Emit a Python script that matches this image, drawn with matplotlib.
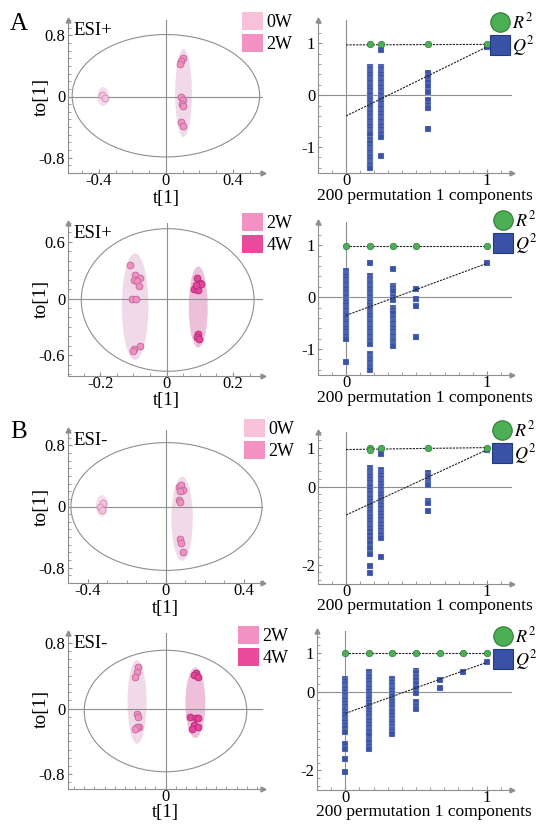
import matplotlib
matplotlib.use("Agg")
import matplotlib.pyplot as plt
from matplotlib.patches import Ellipse, Patch
from matplotlib.lines import Line2D
from matplotlib.ticker import MultipleLocator

plt.rcParams['font.family'] = ['Liberation Serif', 'DejaVu Serif']
plt.rcParams['mathtext.fontset'] = 'stix'
plt.rcParams['axes.unicode_minus'] = False

# ---------------- score plot data (t[1], to[1]) ----------------
# A, ESI+, 0W vs 2W
a_0w_x = [-0.384, -0.362]
a_0w_y = [0.02, -0.02]
a_2w_x = [0.105, 0.09, 0.085, 0.093, 0.105, 0.095, 0.1, 0.09, 0.1]
a_2w_y = [0.5, 0.47, 0.43, 0.0, -0.05, -0.1, -0.12, -0.33, -0.38]

# A, ESI+, 2W vs 4W
b_2w_x = [-0.109, -0.094, -0.079, -0.099, -0.089, -0.084, -0.104, -0.091, -0.079, -0.099, -0.102]
b_2w_y = [0.36, 0.25, 0.22, 0.2, 0.19, 0.13, 0.0, 0.0, -0.5, -0.53, -0.56]
b_4w_x = [0.091, 0.099, 0.104, 0.083, 0.095, 0.088, 0.093, 0.09, 0.098]
b_4w_y = [0.22, 0.17, 0.15, 0.1, 0.09, 0.14, -0.38, -0.41, -0.43]

# B, ESI-, 0W vs 2W
c_0w_x = [-0.32, -0.335, -0.325]
c_0w_y = [0.05, 0.0, -0.05]
c_2w_x = [0.071, 0.078, 0.09, 0.072, 0.07, 0.074, 0.072, 0.078, 0.09]
c_2w_y = [0.25, 0.28, 0.21, 0.2, 0.09, 0.06, -0.42, -0.48, -0.6]

# B, ESI-, 2W vs 4W
d_2w_x = [-0.133, -0.14, -0.15, -0.14, -0.135, -0.13, -0.14, -0.15]
d_2w_y = [0.51, 0.44, 0.39, -0.07, -0.1, -0.22, -0.23, -0.25]
d_4w_x = [0.15, 0.14, 0.16, 0.12, 0.15, 0.16, 0.14, 0.16, 0.13]
d_4w_y = [0.43, 0.41, 0.39, -0.1, -0.12, -0.11, -0.2, -0.22, -0.25]

# ---------------- permutation test data ----------------
p1_r2_x = [0.17, 0.25, 0.58, 1.0]
p1_r2_y = [0.98, 0.98, 0.98, 0.98]
p1_r2_int = 0.97
p1_q2_x = [0.17, 0.25, 0.58, 1.0]
p1_q2_y = [
    [0.55, 0.5, 0.45, 0.4, 0.35, 0.3, 0.25, 0.2, 0.15, 0.1, 0.05, 0.0, -0.05, -0.1, -0.15, -0.2,
     -0.25, -0.3, -0.35, -0.4, -0.45, -0.5, -0.55, -0.6, -0.65, -0.7, -0.75, -0.87, -0.92,
     -1.0, -1.05, -1.1, -1.15, -1.2, -1.25, -1.3, -1.35, -1.4],
    [0.88, 0.55, 0.5, 0.45, 0.4, 0.35, 0.3, 0.25, 0.2, 0.15, 0.1, 0.05, 0.0, -0.05, -0.1, -0.15,
     -0.2, -0.25, -0.3, -0.35, -0.4, -0.45, -0.5, -0.55, -0.6, -0.65, -0.7, -0.75, -0.8, -1.17],
    [0.42, 0.35, 0.26, 0.17, 0.07, -0.1, -0.19, -0.25, -0.65],
    [0.93],
]
p1_q2_int = -0.4

p2_r2_x = [0.0, 0.167, 0.333, 0.5, 1.0]
p2_r2_y = [0.99, 0.99, 0.99, 0.99, 0.99]
p2_r2_int = 0.99
p2_q2_x = [0.0, 0.167, 0.333, 0.5, 1.0]
p2_q2_y = [
    [0.5, 0.45, 0.4, 0.35, 0.3, 0.25, 0.2, 0.15, 0.1, 0.05, 0.0, -0.05, -0.1, -0.15, -0.2, -0.25,
     -0.3, -0.35, -0.4, -0.45, -0.5, -0.55, -0.6, -0.65, -0.7, -0.75, -0.8, -1.25],
    [0.65, 0.4, 0.35, 0.3, 0.25, 0.2, 0.15, 0.1, 0.05, 0.0, -0.05, -0.1, -0.15, -0.2, -0.25, -0.3,
     -0.35, -0.4, -0.45, -0.5, -0.55, -0.6, -0.65, -0.7, -0.75, -0.8, -0.85, -0.9,
     -1.1, -1.15, -1.2, -1.25, -1.3, -1.35, -1.4],
    [0.55, 0.22, 0.17, 0.12, 0.0, -0.05, -0.2, -0.25, -0.3, -0.4, -0.45, -0.5, -0.55, -0.6,
     -0.65, -0.7, -0.75, -0.8, -0.85, -0.9, -0.95],
    [0.15, -0.03, -0.17, -0.77],
    [0.65],
]
p2_q2_int = -0.35

p3_r2_x = [0.17, 0.17, 0.25, 0.58, 1.0]
p3_r2_y = [1.0, 0.93, 1.0, 1.0, 1.0]
p3_r2_int = 0.95
p3_q2_x = [0.17, 0.25, 0.58, 1.0]
p3_q2_y = [
    [0.47, 0.4, 0.33, 0.26, 0.19, 0.12, 0.05, -0.02, -0.09, -0.16, -0.23, -0.3, -0.37, -0.44,
     -0.51, -0.58, -0.65, -0.72, -0.79, -0.86, -0.93, -1.0, -1.07, -1.14, -1.24, -1.35, -1.45,
     -1.58, -1.73, -2.04, -2.22],
    [0.92, 0.83, 0.43, 0.36, 0.29, 0.22, 0.15, 0.08, 0.01, -0.06, -0.13, -0.2, -0.27, -0.34,
     -0.41, -0.48, -0.55, -0.62, -0.69, -0.76, -0.83, -0.9, -0.97, -1.04, -1.11, -1.18, -1.25,
     -1.32, -1.8],
    [0.34, 0.26, 0.17, 0.09, 0.04, -0.36, -0.43, -0.62],
    [0.94],
]
p3_q2_int = -0.73

p4_r2_x = [0.0, 0.167, 0.333, 0.5, 0.667, 0.833, 1.0]
p4_r2_y = [1.0, 1.0, 1.0, 1.0, 1.0, 1.0, 1.0]
p4_r2_int = 1.0
p4_q2_x = [0.0, 0.167, 0.333, 0.5, 0.667, 0.833, 1.0]
p4_q2_y = [
    [0.34, 0.27, 0.2, 0.13, 0.06, -0.01, -0.08, -0.15, -0.22, -0.29, -0.36, -0.43, -0.5, -0.57,
     -0.64, -0.71, -0.78, -0.85, -0.92, -1.03, -1.32, -1.45, -1.7, -2.03],
    [0.51, 0.44, 0.37, 0.3, 0.23, 0.16, 0.09, 0.02, -0.05, -0.12, -0.19, -0.26, -0.33, -0.4,
     -0.47, -0.54, -0.61, -0.68, -0.75, -0.82, -0.89, -0.96, -1.03, -1.11, -1.22, -1.28, -1.37,
     -1.45],
    [0.32, 0.25, 0.18, 0.11, 0.04, -0.03, -0.1, -0.17, -0.24, -0.31, -0.38, -0.45, -0.52, -0.59,
     -0.66, -0.73, -0.8, -0.87, -0.94, -1.0, -1.07],
    [0.54, 0.47, 0.38, 0.3, 0.21, 0.09, -0.03, -0.26, -0.36, -0.44],
    [0.3, 0.09],
    [0.5],
    [0.75],
]
p4_q2_int = -0.55

GRAY = '#8f8f8f'
C0W, C2W, C4W = '#f6c1d9', '#f192c2', '#ea4a9b'
PT = {'0W': ('#f5c3dc', '#d58db4'), '2W': ('#ee90c0', '#c2659a'), '4W': ('#e4459a', '#b02a76')}
SHADE = {'0W': '#f2dbe8', '2W': '#f0d6e6', '4W': '#ecb8d6'}
GREEN, GREEN_E = '#4cae55', '#2e7d35'
BLUE, BLUE_E = '#3a52a6', '#22398a'

W, H = 539, 824
fig = plt.figure(figsize=(W / 100, H / 100), dpi=100)


def px_rect(left, top, right, bottom):
    return [left / W, 1 - bottom / H, (right - left) / W, (bottom - top) / H]


def style_axes(ax):
    for s in ('top', 'right'):
        ax.spines[s].set_visible(False)
    for s in ('left', 'bottom'):
        ax.spines[s].set_color(GRAY)
        ax.spines[s].set_linewidth(0.8)
    ax.tick_params(which='both', direction='in', color=GRAY, labelsize=12, pad=2)
    ax.tick_params(which='major', length=3)
    ax.tick_params(which='minor', length=2)
    ax.tick_params(axis='x', which='major', pad=0)
    ax.plot(0, 1, '^', transform=ax.transAxes, clip_on=False, color=GRAY, ms=3.5)
    ax.plot(1, 0, '>', transform=ax.transAxes, clip_on=False, color=GRAY, ms=3.5)


def score_panel(rect, xlim, ylim, xticks, yticks, xminor, yminor, t2, groups, tag, leg_xy,
                tdrop=25):
    ax = fig.add_axes(rect)
    ax.set_xlim(*xlim)
    ax.set_ylim(*ylim)
    style_axes(ax)
    ax.axhline(0, color=GRAY, lw=0.8)
    ax.axvline(0, color=GRAY, lw=0.8)
    ax.add_patch(Ellipse(t2[:2], t2[2], t2[3], fill=False, ec=GRAY, lw=0.8))
    for name, gx, gy, ell in groups:
        ax.add_patch(Ellipse(ell[:2], ell[2], ell[3], fc=SHADE[name], ec='none', alpha=0.9))
    for name, gx, gy, ell in groups:
        fc, ec = PT[name]
        ax.scatter(gx, gy, s=24, c=fc, edgecolors=ec, linewidths=0.6, zorder=3)
    ax.set_xticks(xticks)
    ax.set_xticklabels([('%g' % v) for v in xticks])
    ax.set_yticks(yticks)
    ax.set_yticklabels([('%g' % v) for v in yticks])
    ax.xaxis.set_minor_locator(MultipleLocator(xminor))
    ax.yaxis.set_minor_locator(MultipleLocator(yminor))
    x0 = (0 - xlim[0]) / (xlim[1] - xlim[0])
    y0 = (0 - ylim[0]) / (ylim[1] - ylim[0])
    ax.text(x0, -tdrop / (rect[3] * H), 't[1]', transform=ax.transAxes, ha='center',
            va='center', fontsize=13.5)
    ax.text(-0.135, y0, 'to[1]', transform=ax.transAxes, ha='center', va='center',
            rotation=90, fontsize=14)
    ax.text(0.03, 0.93, tag, transform=ax.transAxes, ha='left', va='center', fontsize=13.5)
    colors = {'0W': C0W, '2W': C2W, '4W': C4W}
    handles = [Patch(facecolor=colors[g[0]], edgecolor='none') for g in groups]
    fig.legend(handles, [g[0] for g in groups], loc='upper left',
               bbox_to_anchor=(leg_xy[0] / W, 1 - leg_xy[1] / H), frameon=False, fontsize=13,
               handlelength=1.15, handleheight=1.15, handletextpad=0.2, labelspacing=0.15,
               borderpad=0, borderaxespad=0)
    return ax


def perm_panel(rect, ylim, yticks, yminor, r2x, r2y, r2int, q2x, q2y, q2int, leg_xy):
    ax = fig.add_axes(rect)
    ax.set_xlim(-0.2, 1.18)
    ax.set_ylim(*ylim)
    style_axes(ax)
    ax.axhline(0, color=GRAY, lw=0.8)
    ax.axvline(0, color=GRAY, lw=0.8)
    for xv, col in zip(q2x, q2y):
        ax.scatter([xv] * len(col), col, marker='s', s=20, c=BLUE, edgecolors='#c8d0ea',
                   linewidths=0.2, zorder=3)
    ax.plot([0, 1], [q2int, q2y[-1][0]], color='#222222', lw=0.8, ls=(0, (2, 1)), zorder=4)
    ax.plot([0, 1], [r2int, r2y[-1]], color='#222222', lw=0.8, ls=(0, (2, 1)), zorder=4)
    ax.scatter(r2x, r2y, marker='o', s=22, c=GREEN, edgecolors=GREEN_E, linewidths=0.5, zorder=5)
    ax.set_xticks([0, 1])
    ax.set_xticklabels(['0', '1'])
    ax.set_yticks(yticks)
    ax.set_yticklabels([('%g' % v) for v in yticks])
    ax.xaxis.set_minor_locator(MultipleLocator(0.1))
    ax.yaxis.set_minor_locator(MultipleLocator(yminor))
    ax.text(0.55, -22.5 / (rect[3] * H), '200 permutation 1 components', transform=ax.transAxes,
            ha='center', va='center', fontsize=12.5)
    handles = [Line2D([], [], ls='none', marker='o', ms=14, mfc=GREEN, mec=GREEN_E, mew=0.8),
               Line2D([], [], ls='none', marker='s', ms=14, mfc=BLUE, mec=BLUE_E, mew=0.8)]
    fig.legend(handles, ['$R^{2}$', '$Q^{2}$'], loc='upper left',
               bbox_to_anchor=(leg_xy[0] / W, 1 - leg_xy[1] / H), frameon=False, fontsize=13,
               handlelength=1.0, handletextpad=0.15, labelspacing=0.1,
               borderpad=0, borderaxespad=0)
    return ax


score_panel(px_rect(68, 20, 263, 173), (-0.585, 0.58), (-1.0, 1.0), [-0.4, 0, 0.4], [-0.8, 0, 0.8],
            0.1, 0.1, (0, 0.01, 1.12, 1.6),
            [('0W', a_0w_x, a_0w_y, (-0.375, 0.0, 0.07, 0.25)),
             ('2W', a_2w_x, a_2w_y, (0.105, 0.045, 0.1, 1.15))], 'ESI+', (242, 12))
score_panel(px_rect(68, 223, 263, 376), (-0.297, 0.29), (-0.82, 0.8), [-0.2, 0, 0.2], [-0.6, 0, 0.6],
            0.05, 0.1, (0.003, -0.015, 0.52, 1.51),
            [('2W', b_2w_x, b_2w_y, (-0.095, -0.085, 0.08, 1.13)),
             ('4W', b_4w_x, b_4w_y, (0.095, -0.09, 0.057, 0.86))], 'ESI+', (242, 213))
score_panel(px_rect(68, 430, 263, 583), (-0.5, 0.5), (-1.0, 1.0), [-0.4, 0, 0.4], [-0.8, 0, 0.8],
            0.1, 0.1, (0.005, 0.0, 0.98, 1.67),
            [('0W', c_0w_x, c_0w_y, (-0.326, 0.01, 0.062, 0.28)),
             ('2W', c_2w_x, c_2w_y, (0.085, -0.16, 0.11, 1.1))], 'ESI-', (244, 419))
score_panel(px_rect(68, 633, 263, 789), (-0.48, 0.48), (-0.98, 0.92), [0], [-0.8, 0, 0.8],
            0.05, 0.1, (0.0, -0.03, 0.8, 1.48),
            [('2W', d_2w_x, d_2w_y, (-0.14, 0.08, 0.094, 1.02)),
             ('4W', d_4w_x, d_4w_y, (0.147, 0.07, 0.098, 0.86))], 'ESI-', (238, 626),
            tdrop=23.5)

perm_panel(px_rect(318, 20, 512, 173), (-1.5, 1.45), [-1, 0, 1], 0.2,
           p1_r2_x, p1_r2_y, p1_r2_int, p1_q2_x, p1_q2_y, p1_q2_int, (491, 12))
perm_panel(px_rect(318, 222, 512, 375), (-1.5, 1.45), [-1, 0, 1], 0.2,
           p2_r2_x, p2_r2_y, p2_r2_int, p2_q2_x, p2_q2_y, p2_q2_int, (494, 210))
perm_panel(px_rect(318, 432, 512, 584), (-2.5, 1.4), [-2, 0, 1], 0.2,
           p3_r2_x, p3_r2_y, p3_r2_int, p3_q2_x, p3_q2_y, p3_q2_int, (493, 420))
perm_panel(px_rect(317, 631, 512, 790), (-2.5, 1.55), [-2, 0, 1], 0.2,
           p4_r2_x, p4_r2_y, p4_r2_int, p4_q2_x, p4_q2_y, p4_q2_int, (494, 626))

fig.text(19 / W, 1 - 24 / H, 'A', fontsize=18, ha='center', va='center')
fig.text(19 / W, 1 - 432 / H, 'B', fontsize=18, ha='center', va='center')

fig.savefig('out.png', dpi=100)
